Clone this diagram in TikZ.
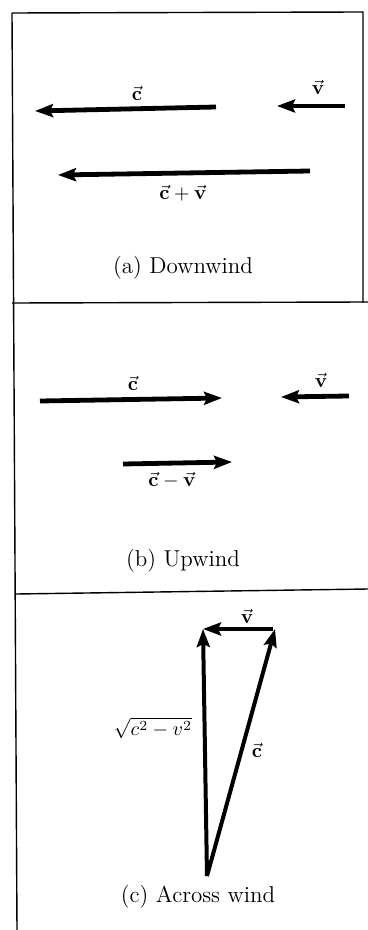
\documentclass[tikz,border=0pt]{standalone}
\usetikzlibrary{arrows.meta}
\tikzset{
  vec/.style={-{Stealth[length=9pt,width=6.5pt,inset=1.5pt]}, line width=2.4pt},
  frame/.style={line width=0.7pt},
  lbl/.style={inner sep=0pt, font=\fontsize{10}{12}\selectfont},
  caption/.style={inner sep=0pt, font=\fontsize{11.5}{13}\selectfont}
}
\begin{document}
\begin{tikzpicture}[x=0.5pt, y=-0.5pt]
    \useasboundingbox (0,0) rectangle (368,930);

    % Frame
    \draw[frame] (12,13) -- (363,12) -- (363,303);
    \draw[frame] (12,13) -- (17,930);
    \draw[frame] (12,303) -- (368,302);
    \draw[frame] (16,594) -- (368,589);

    % (a) Downwind
    \coordinate (ca1) at (216,107);  \coordinate (ca2) at (35,111);
    \coordinate (va1) at (345,106);  \coordinate (va2) at (277,106);
    \coordinate (sa1) at (310,171);  \coordinate (sa2) at (58,175);
    \draw[vec] (ca1) -- (ca2);
    \draw[vec] (va1) -- (va2);
    \draw[vec] (sa1) -- (sa2);
    \node[lbl] (lca) at (137,93) {$\vec{\mathbf{c}}$};
    \node[lbl] (lva) at (318,87) {$\vec{\mathbf{v}}$};
    \node[lbl] (lsa) at (183,193) {$\vec{\mathbf{c}} + \vec{\mathbf{v}}$};
    \node[caption] (capa) at (183,268) {(a) Downwind};

    % (b) Upwind
    \coordinate (cb1) at (40,401);   \coordinate (cb2) at (222,398);
    \coordinate (vb1) at (349,396);  \coordinate (vb2) at (281,397);
    \coordinate (db1) at (123,464);  \coordinate (db2) at (232,462);
    \draw[vec] (cb1) -- (cb2);
    \draw[vec] (vb1) -- (vb2);
    \draw[vec] (db1) -- (db2);
    \node[lbl] (lcb) at (133,383) {$\vec{\mathbf{c}}$};
    \node[lbl] (lvb) at (321,380) {$\vec{\mathbf{v}}$};
    \node[lbl] (ldb) at (172,480) {$\vec{\mathbf{c}} - \vec{\mathbf{v}}$};
    \node[caption] (capb) at (183,561) {(b) Upwind};

    % (c) Across wind
    \coordinate (A) at (207,876);
    \coordinate (B) at (203,629);
    \coordinate (C) at (275,629);
    \coordinate (Cs) at (273,629);
    \draw[vec, line width=2pt] (A) -- (B);
    \draw[vec, line width=2pt] (A) -- (C);
    \draw[vec, line width=2pt] (Cs) -- (B);
    \node[lbl] (lvc) at (247,616) {$\vec{\mathbf{v}}$};
    \node[lbl] (lcc) at (257,750) {$\vec{\mathbf{c}}$};
    \node[lbl] (lrc) at (153,728) {$\sqrt{c^2 - v^2}$};
    \node[caption] (capc) at (198,897) {(c) Across wind};
\end{tikzpicture}
\end{document}
